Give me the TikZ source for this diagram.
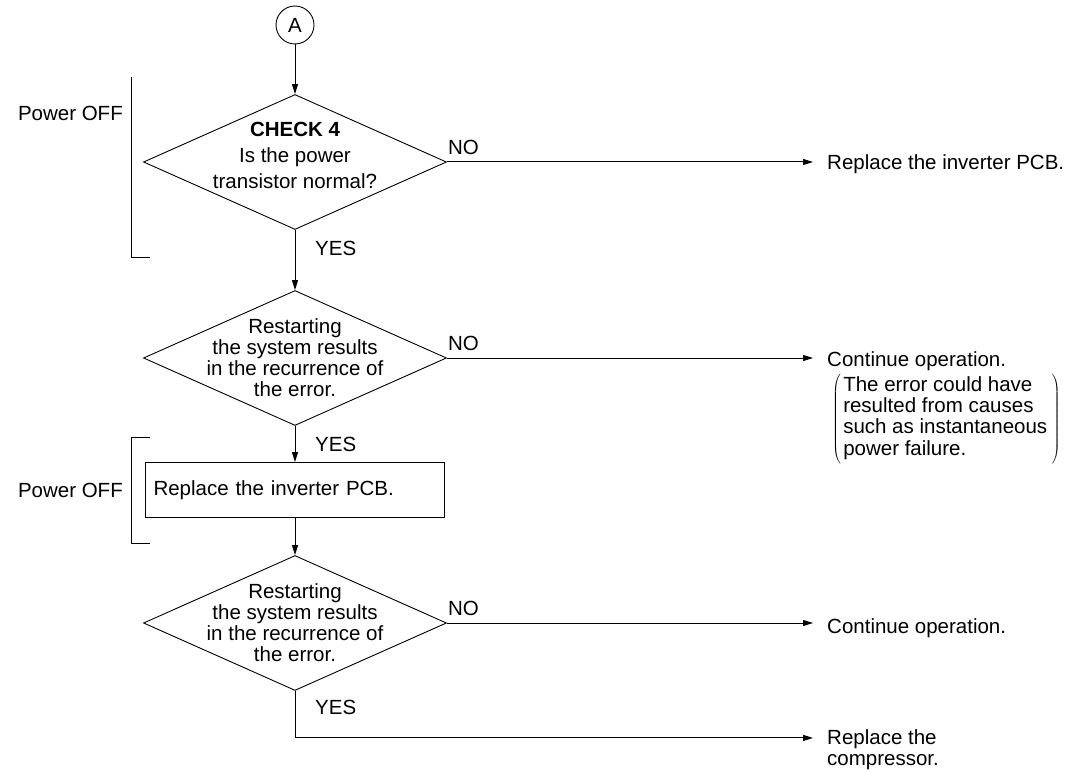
\documentclass[tikz,border=0pt]{standalone}
\usepackage{fontspec}
\setmainfont{Liberation Sans}
\usetikzlibrary{arrows.meta,positioning,shapes.geometric}

\begin{document}
\begin{tikzpicture}[
  x=1pt,y=-1pt,
  every node/.style={font=\fontsize{20.5pt}{21pt}\selectfont},
  decision/.style={draw,diamond,inner sep=0pt,minimum width=303pt,
                   minimum height=135pt,line width=0.9pt},
  dtext/.style={align=center,inner sep=0pt},
  action/.style={draw,rectangle,align=left,text width=283pt,inner xsep=8pt,
                 minimum height=55pt,line width=0.9pt},
  result/.style={anchor=west,align=left,inner sep=0pt},
  tag/.style={anchor=west,inner sep=0pt},
  side/.style={anchor=east,inner sep=0pt},
  bracket/.style={line width=0.9pt},
  flow/.style={-{Triangle[length=10pt,width=6pt]},line width=1pt},
  exitflow/.style={flow,shorten >=14pt}
]
\useasboundingbox (0,0) rectangle (1074,773);

\node[circle,draw,minimum size=38pt,inner sep=0pt,line width=0.9pt] (connA) at (295,25) {A};
\node[decision] (q1) at (295,162) {};
\node[dtext,font=\fontsize{20.5pt}{26pt}\selectfont] (q1text) at (295,155)
  {\textbf{CHECK 4}\\Is the power\\transistor normal?};
\node[decision] (q2) at (295,358) {};
\node[dtext] (q2text) at (q2) {Restarting\\the system results\\in the recurrence of\\the error.};
\node[action] (fix1) at (295,490) {Replace the inverter PCB.};
\node[decision] (q3) at (295,623) {};
\node[dtext] (q3text) at (q3) {Restarting\\the system results\\in the recurrence of\\the error.};

\node[result] (res1) at (827,164) {Replace the inverter PCB.};
\node[result] (res2) at (827,361) {Continue operation.};
\node[result,anchor=north west] (note) at (832,373)
  {$\left(\vrule height 51pt depth 41pt width 0pt\mkern2mu
   \begin{tabular}{@{}l@{}}The error could have\\resulted from causes\\such as instantaneous\\power failure.\end{tabular}
   \mkern4mu\right)$};
\node[result] (res3) at (827,628) {Continue operation.};
\node[result,anchor=north west] (res4) at (827,729) {Replace the\\compressor.};

\node[tag] (no1) at ([xshift=1pt,yshift=15pt]q1.east) {NO};
\node[tag] (no2) at ([xshift=1pt,yshift=15pt]q2.east) {NO};
\node[tag] (no3) at ([xshift=1pt,yshift=15pt]q3.east) {NO};
\node[tag] (yes1) at ([xshift=20pt,yshift=-18pt]q1.south) {YES};
\node[tag] (yes2) at ([xshift=20pt,yshift=-18pt]q2.south) {YES};
\node[tag] (yes3) at ([xshift=20pt,yshift=-16pt]q3.south) {YES};

\node[side] (off1) at (123,113) {Power OFF};
\node[side] (off2) at (123,490) {Power OFF};
\draw[bracket] (131,77) -- (131,257) -- (150,257);
\draw[bracket] (150,437) -- (131,437) -- (131,543) -- (150,543);

\draw[flow] (connA) -- (q1);
\draw[flow] (q1) -- (q2);
\draw[flow] (q2) -- (fix1);
\draw[flow] (fix1) -- (q3);
\draw[exitflow] (q1.east) -- (q1.east -| res1.west);
\draw[exitflow] (q2.east) -- (q2.east -| res2.west);
\draw[exitflow] (q3.east) -- (q3.east -| res3.west);
\coordinate (turn) at ([yshift=-47pt]q3.south);
\draw[exitflow] (q3.south) -- (turn) -- (turn -| res4.west);
\end{tikzpicture}
\end{document}
